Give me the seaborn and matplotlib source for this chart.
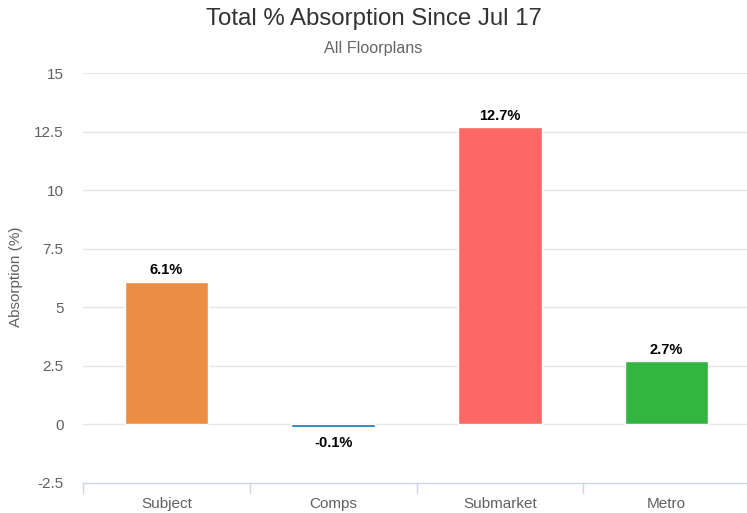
import matplotlib
matplotlib.use("Agg")
import matplotlib.pyplot as plt
import seaborn as sns
import pandas as pd
from matplotlib.transforms import blended_transform_factory

categories = ["Subject", "Comps", "Submarket", "Metro"]
values = [6.1, -0.1, 12.7, 2.7]
labels = ["6.1%", "-0.1%", "12.7%", "2.7%"]
colors = ["#EB8D43", "#0073B9", "#FF6666", "#33B542"]
yticks = [-2.5, 0, 2.5, 5, 7.5, 10, 12.5, 15]
ytick_labels = ["-2.5", "0", "2.5", "5", "7.5", "10", "12.5", "15"]

sns.set_style("white")
plt.rcParams["font.family"] = ["Liberation Sans", "DejaVu Sans"]

df = pd.DataFrame({"cat": categories, "val": values})

fig = plt.figure(figsize=(7.47, 5.13), dpi=100)
ax = fig.add_axes([83 / 747, (513 - 483) / 513, (750 - 83) / 747, (483 - 73) / 513])

sns.barplot(data=df, x="cat", y="val", hue="cat", palette=colors, legend=False,
            width=0.5, ax=ax, saturation=1, zorder=3)

ax.set_ylim(-2.5, 15)
ax.set_xlim(-0.5, 3.5)
ax.set_yticks(yticks)
ax.set_yticklabels(ytick_labels)
for y in yticks[1:]:
    ax.axhline(y, color="#e6e6e6", lw=1, zorder=1)

for s in ["top", "right", "left"]:
    ax.spines[s].set_visible(False)
ax.spines["bottom"].set_color("#ccd6eb")
ax.spines["bottom"].set_linewidth(1)

ax.tick_params(axis="y", length=0, labelsize=11, labelcolor="#606060", pad=14)
ax.tick_params(axis="x", length=0, labelsize=11, labelcolor="#606060", pad=10)
trans = blended_transform_factory(ax.transData, ax.transAxes)
for xb in [-0.5, 0.5, 1.5, 2.5, 3.5]:
    ax.plot([xb, xb], [0, -10 / 410], transform=trans, color="#ccd6eb", lw=1, clip_on=False)

ax.set_xlabel("")
ax.set_ylabel("Absorption (%)", fontsize=11, color="#606060")
ax.yaxis.set_label_coords((23 - 83) / 667, (483 - 277) / 410)

for i, (v, lab) in enumerate(zip(values, labels)):
    if v >= 0:
        ax.annotate(lab, (i, v), xytext=(0, 3), textcoords="offset points",
                    ha="center", va="bottom", fontsize=10.5, fontweight="bold", color="black")
    else:
        ax.annotate(lab, (i, v), xytext=(0, -6.5), textcoords="offset points",
                    ha="center", va="top", fontsize=10.5, fontweight="bold", color="black")

fig.text(0.5, 1 - 19 / 513, "Total % Absorption Since Jul 17", ha="center", va="center",
         fontsize=17.3, color="#333333")
fig.text(0.5, 1 - 48 / 513, "All Floorplans", ha="center", va="center",
         fontsize=11.6, color="#666666")

fig.savefig("out.png", dpi=100)
